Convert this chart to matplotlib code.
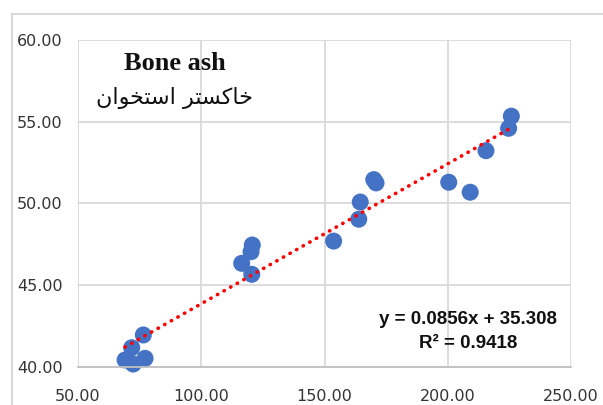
import matplotlib
matplotlib.use('Agg')
import matplotlib.pyplot as plt
import numpy as np

# Значения точек
x_vals = [69.1, 72.4, 77.2, 71.8, 76.5, 116.4, 120.5, 120.2, 120.7,
          153.7, 163.9, 164.5, 170.0, 170.9, 200.4, 209.1, 215.5, 224.7, 225.8]
y_vals = [40.43, 40.18, 40.53, 41.18, 41.96, 46.34, 45.67, 47.05, 47.46,
          47.70, 49.04, 50.09, 51.46, 51.26, 51.30, 50.69, 53.23, 54.60, 55.34]

# Линия тренда из подписи
slope = 0.0856
intercept = 35.308
r2 = 0.9418

x_ticks = [50, 100, 150, 200, 250]
y_ticks = [40, 45, 50, 55, 60]

title_en = 'Bone ash'
# "خاکستر استخوان" в формах представления, в визуальном порядке слева направо
title_fa = '\uFEE5\uFE8D\uFEEE\uFEA8\uFE98\uFEB3\uFE8D \uFEAE\uFE98\uFEB4\uFEDB\uFE8E\uFEA7'

fig = plt.figure(figsize=(6.03, 4.05), dpi=100)
ax = fig.add_axes([78 / 603, 1 - 367 / 405, (571 - 78) / 603, (367 - 40) / 405])

ax.scatter(x_vals, y_vals, s=150, color='#4472C4', edgecolors='none', zorder=2, clip_on=False)

xt = np.array([min(x_vals), max(x_vals)])
ax.plot(xt, slope * xt + intercept, color='#FF0000', linewidth=2.6,
        linestyle=(0, (0.1, 2.0)), dash_capstyle='round', zorder=3)

ax.set_xlim(50, 250)
ax.set_ylim(40, 60)
ax.set_xticks(x_ticks)
ax.set_yticks(y_ticks)
ax.set_xticklabels([f'{v:.2f}' for v in x_ticks])
ax.set_yticklabels([f'{v:.2f}' for v in y_ticks])
ax.tick_params(axis='both', length=0, labelsize=11.5, colors='#333333')
ax.tick_params(axis='x', pad=16)
ax.tick_params(axis='y', pad=11)
ax.grid(True, color='#D9D9D9', linewidth=1.3)
ax.set_axisbelow(True)
for side in ['top', 'right', 'left']:
    ax.spines[side].set_visible(False)
ax.spines['bottom'].set_color('#BFBFBF')
ax.spines['bottom'].set_linewidth(1.3)

# Подписи
fig.text(175 / 603, 1 - 64 / 405, title_en, ha='center', va='center',
         fontsize=19, fontweight='bold', family='Liberation Serif', color='#111111')
fig.text(174 / 603, 1 - 98 / 405, title_fa, ha='center', va='center', fontsize=16,
         family='DejaVu Sans', color='#111111')
fig.text(468 / 603, 1 - 319 / 405, f'y = {slope}x + {intercept}', ha='center', va='center',
         fontsize=13.5, fontweight='bold', family='Liberation Sans', color='#111111')
fig.text(468 / 603, 1 - 344 / 405, f'R\u00b2 = {r2}', ha='center', va='center',
         fontsize=13.5, fontweight='bold', family='Liberation Sans', color='#111111')

# Рамка области диаграммы
fig.add_artist(plt.Line2D([12 / 603, 12 / 603], [0, 1 - 14 / 405], transform=fig.transFigure,
                          color='#D9D9D9', linewidth=1.5))
fig.add_artist(plt.Line2D([12 / 603, 1], [1 - 14 / 405, 1 - 14 / 405], transform=fig.transFigure,
                          color='#D9D9D9', linewidth=1.5))

plt.savefig('out.png', dpi=100)
